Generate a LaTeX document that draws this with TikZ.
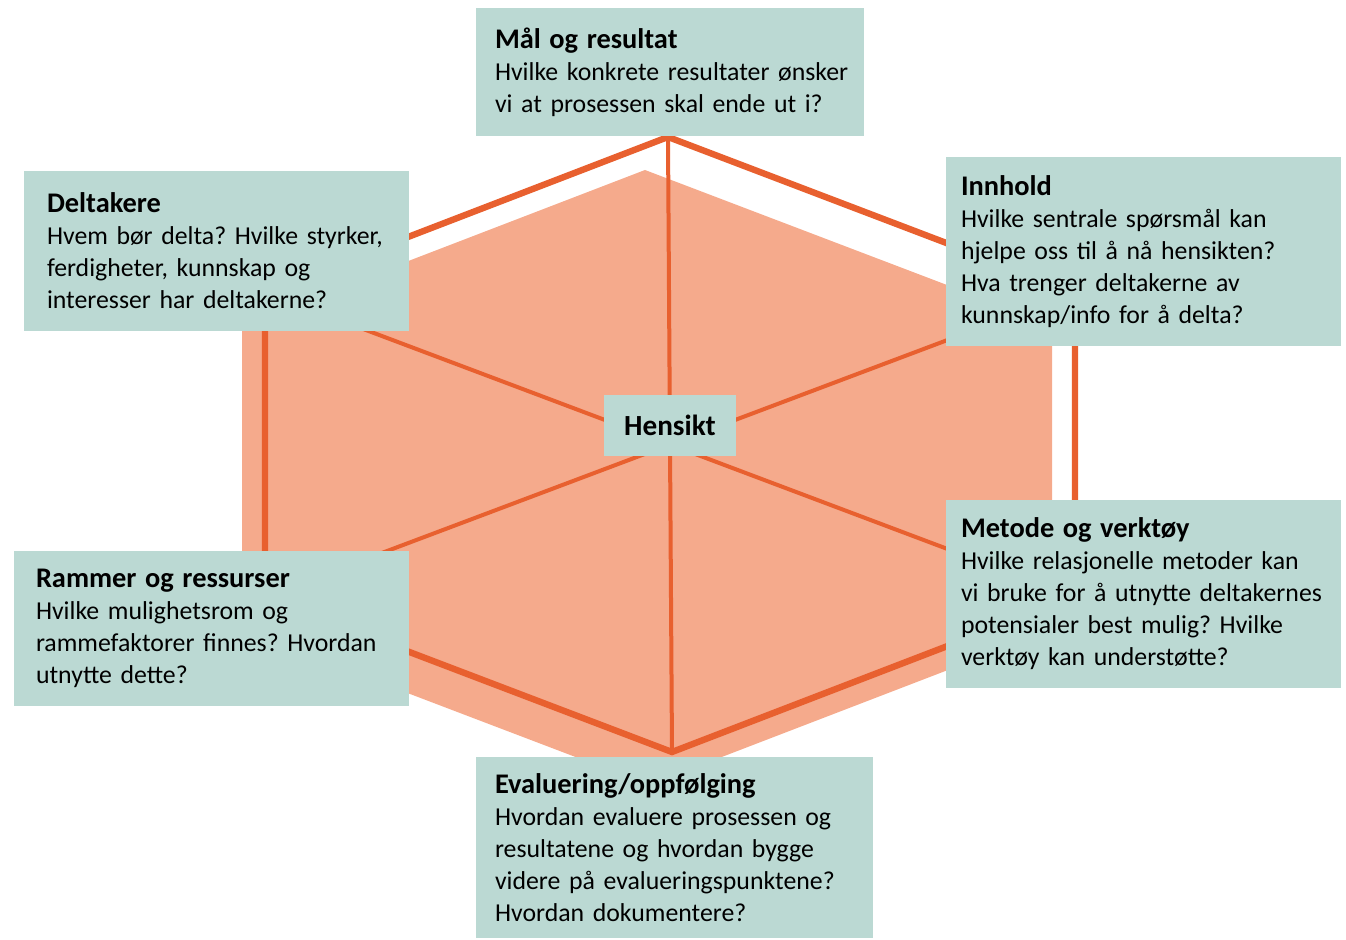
\documentclass[tikz,border=0pt]{standalone}
\usepackage{fontspec}
\setmainfont{Carlito}
\frenchspacing
\usetikzlibrary{calc,positioning}
\definecolor{boxteal}{HTML}{BBD9D3}
\definecolor{hexline}{HTML}{E8602F}
\definecolor{hexfill}{HTML}{F5AA8C}
\newcommand\head[1]{{\fontsize{14.2}{16}\selectfont\bfseries #1}}
\tikzset{
    topic/.style ={fill=boxteal, align=left, inner ysep=0pt, font=\fontsize{12.9}{16}\selectfont},
    rim/.style = {draw=hexline, line width=3.2pt, line join=miter},
    spoke/.style = {draw=hexline, line width=2pt}
}

\begin{document}
\begin{tikzpicture}[x=0.5pt,y=-0.5pt]
      \useasboundingbox (0,0) rectangle (1346,940);

      \coordinate (m) at (670,445);
      \coordinate (t) at (668,137);
      \coordinate (ur) at (1075,292);
      \coordinate (lr) at (1075,597);
      \coordinate (b) at (672,752);
      \coordinate (ll) at (265,597);
      \coordinate (ul) at (265,292);

      % shaded hexagon, set a little down and to the left
      \fill[hexfill] ($(t)+(-23,33)$) -- ($(ur)+(-23,33)$) -- ($(lr)+(-23,33)$)
            -- ($(b)+(-23,33)$) -- ($(ll)+(-23,33)$) -- ($(ul)+(-23,33)$) -- cycle;
      \path[rim] (t) -- (ur) -- (lr) -- (b) -- (ll) -- (ul) -- cycle;

      \path[spoke] (t) -- (b);
      \path[spoke] (ul) -- (lr);
      \path[spoke] (ur) -- (ll);

      \node[topic, inner xsep=9.5pt, text width=175pt, minimum height=64pt] (goal) at (670,72)
          {\head{Mål og resultat}\\\mbox{Hvilke konkrete resultater ønsker}\\vi at prosessen skal ende ut i?};
      \node[topic, inner xsep=11.5pt, text width=169.5pt, minimum height=80pt] (who) at (216.5,251)
          {\head{Deltakere}\\Hvem bør delta? Hvilke styrker,\\ferdigheter, kunnskap og\\interesser har deltakerne?};
      \node[topic, inner xsep=7.5pt, text width=182.5pt, minimum height=94.5pt] (what) at (1143.5,251.5)
          {\head{Innhold}\\Hvilke sentrale spørsmål kan\\hjelpe oss til å nå hensikten?\\Hva trenger deltakerne av\\kunnskap/info for å delta?};
      \node[topic, inner xsep=0pt, minimum width=66pt, minimum height=30.5pt, align=center] (aim) at (670,425.5)
          {{\fontsize{14.6}{16}\selectfont\bfseries Hensikt}};
      \node[topic, inner xsep=7.5pt, text width=182.5pt, minimum height=94pt] (how) at (1143.5,594)
          {\head{Metode og verktøy}\\Hvilke relasjonelle metoder kan\\\mbox{vi bruke for å utnytte deltakernes}\\potensialer best mulig? Hvilke\\verktøy kan understøtte?};
      \node[topic, inner xsep=11pt, text width=175.5pt, minimum height=77.5pt] (frame) at (211.5,628.5)
          {\head{Rammer og ressurser}\\Hvilke mulighetsrom og\\rammefaktorer finnes? Hvordan\\utnytte dette?};
      \node[topic, inner xsep=9.5pt, text width=179.5pt, minimum height=90.5pt] (eval) at (674.5,847.5)
          {\head{Evaluering/oppfølging}\\Hvordan evaluere prosessen og\\resultatene og hvordan bygge\\videre på evalueringspunktene?\\Hvordan dokumentere?};
    \end{tikzpicture}
\end{document}
